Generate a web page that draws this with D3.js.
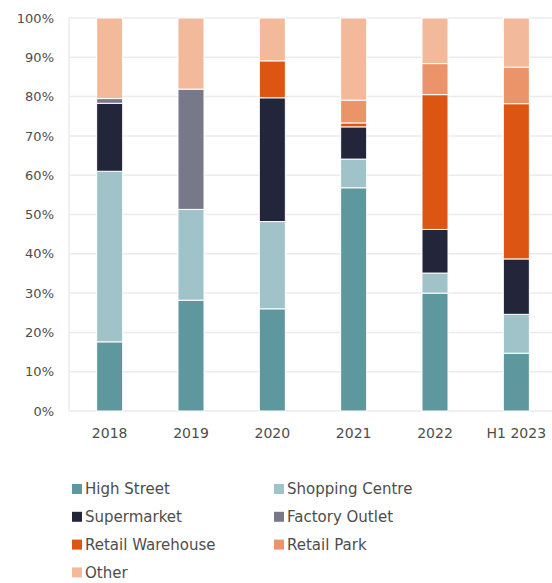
<!DOCTYPE html>
<html>
<head>
<meta charset="utf-8">
<script src="https://cdn.jsdelivr.net/npm/d3@7"></script>
<style>
  body { margin: 0; background: #fff; }
  svg { display: block; font-family: "DejaVu Sans", sans-serif; }
</style>
</head>
<body>
<svg id="chart" width="552" height="583"></svg>
<script>
var years = ["2018", "2019", "2020", "2021", "2022", "H1 2023"];
var seriesNames = ["High Street", "Shopping Centre", "Supermarket", "Factory Outlet", "Retail Warehouse", "Retail Park", "Other"];
var seriesColors = ["#5f979e", "#9fc3c8", "#23263b", "#77798a", "#dc5512", "#eb946a", "#f3b99b"];

// share of deals, % per year
var highStreet      = [17.6, 28.2, 26.0, 56.8, 30.0, 14.7];
var shoppingCentre  = [43.4, 23.1, 22.2, 7.3, 5.1, 9.9];
var supermarket     = [17.3, 0, 31.5, 8.2, 11.1, 14.1];
var factoryOutlet   = [1.2, 30.6, 0, 0, 0, 0];
var retailWarehouse = [0, 0, 9.4, 1.0, 34.3, 39.5];
var retailPark      = [0, 0, 0, 5.8, 7.9, 9.3];
var other           = [20.5, 18.1, 10.9, 20.9, 11.6, 12.5];

var yTicks = [0, 10, 20, 30, 40, 50, 60, 70, 80, 90, 100];

var allSeries = [highStreet, shoppingCentre, supermarket, factoryOutlet, retailWarehouse, retailPark, other];
var rows = years.map(function(y, i) {
    var row = {year: y};
    seriesNames.forEach(function(s, j) { row[s] = allSeries[j][i]; });
    return row;
});

var svg = d3.select("#chart");
var margin = {top: 18, left: 69, bottom: 411};

var x = d3.scaleBand()
    .domain(years)
    .range([69, 557])
    .paddingInner(0.68)
    .paddingOuter(0.34);

var y = d3.scaleLinear()
    .domain([0, 100])
    .range([411, 18]);

var color = d3.scaleOrdinal().domain(seriesNames).range(seriesColors);

// gridlines
svg.append("g")
    .selectAll("line")
    .data(yTicks)
    .enter().append("line")
    .attr("x1", 69).attr("x2", 552)
    .attr("y1", function(d) { return y(d); })
    .attr("y2", function(d) { return y(d); })
    .attr("stroke", "#ebebeb")
    .attr("stroke-width", 1.5);

svg.append("line")
    .attr("x1", 69).attr("x2", 69)
    .attr("y1", y(100)).attr("y2", y(0))
    .attr("stroke", "#ebebeb")
    .attr("stroke-width", 1.5);

// y labels
svg.append("g")
    .selectAll("text")
    .data(yTicks)
    .enter().append("text")
    .attr("x", 54)
    .attr("y", function(d) { return y(d); })
    .attr("dy", "0.36em")
    .attr("text-anchor", "end")
    .attr("font-size", 13)
    .attr("fill", "#4d4d4d")
    .text(function(d) { return d + "%"; });

// stacked bars
var stacked = d3.stack().keys(seriesNames)(rows);

svg.append("g")
    .selectAll("g")
    .data(stacked)
    .enter().append("g")
    .attr("fill", function(d) { return color(d.key); })
    .selectAll("rect")
    .data(function(d) { return d.filter(function(p) { return p[1] - p[0] > 0; }); })
    .enter().append("rect")
    .attr("x", function(d) { return x(d.data.year); })
    .attr("width", x.bandwidth())
    .attr("y", function(d) { return y(d[1]); })
    .attr("height", function(d) { return y(d[0]) - y(d[1]); })
    .attr("stroke", "#fff")
    .attr("stroke-width", 1);

// x labels
svg.append("g")
    .selectAll("text")
    .data(years)
    .enter().append("text")
    .attr("x", function(d) { return x(d) + x.bandwidth() / 2; })
    .attr("y", 438)
    .attr("text-anchor", "middle")
    .attr("font-size", 14)
    .attr("fill", "#4d4d4d")
    .text(function(d) { return d; });

// legend, two columns
var legend = svg.append("g")
    .selectAll("g")
    .data(seriesNames)
    .enter().append("g")
    .attr("transform", function(d, i) {
        var col = i % 2, row = Math.floor(i / 2);
        return "translate(" + (72 + col * 202) + "," + (489 + row * 27.8) + ")";
    });

legend.append("rect")
    .attr("x", 0).attr("y", -5)
    .attr("width", 10).attr("height", 10)
    .attr("fill", function(d) { return color(d); });

legend.append("text")
    .attr("x", 13)
    .attr("dy", "0.36em")
    .attr("font-size", 15)
    .attr("fill", "#4d4d4d")
    .text(function(d) { return d; });
</script>
</body>
</html>
